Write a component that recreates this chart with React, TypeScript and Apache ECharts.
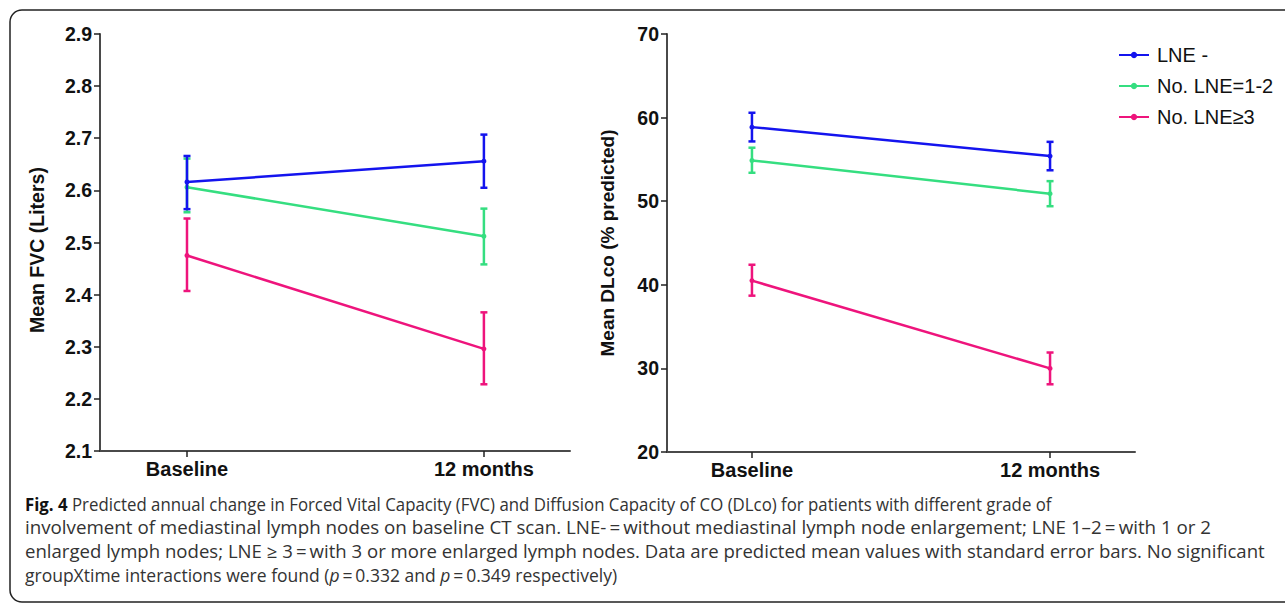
import React, { useEffect, useRef } from "react";
import * as echarts from "echarts";

const timepoints = ["Baseline", "12 months"];
const groups = ["LNE -", "No. LNE=1-2", "No. LNE≥3"];
const groupColors = ["#1414ee", "#35de80", "#ee147c"];

// Mean FVC (Liters) per group: [Baseline, 12 months]
const fvcMeans = [
  [2.616, 2.656],
  [2.606, 2.512],
  [2.475, 2.296],
];
const fvcLower = [
  [2.564, 2.605],
  [2.558, 2.458],
  [2.407, 2.228],
];
const fvcUpper = [
  [2.666, 2.707],
  [2.661, 2.565],
  [2.546, 2.366],
];

// Mean DLco (% predicted)
const dlcoMeans = [
  [58.86, 55.4],
  [54.87, 50.9],
  [40.5, 30.0],
];
const dlcoLower = [
  [57.15, 53.7],
  [53.4, 49.4],
  [38.7, 28.1],
];
const dlcoUpper = [
  [60.58, 57.1],
  [56.4, 52.4],
  [42.4, 31.9],
];

const fvcTicks = { min: 2.1, max: 2.9, interval: 0.1 };
const dlcoTicks = { min: 20, max: 70, interval: 10 };

const captionLines = [
  [
    { t: "Fig. 4", s: "b" },
    { t: " Predicted annual change in Forced Vital Capacity (FVC) and Diffusion Capacity of CO (DLco) for patients with different grade of", s: "n" },
  ],
  [
    { t: "involvement of mediastinal lymph nodes on baseline CT scan. LNE-\u2009=\u2009without mediastinal lymph node enlargement; LNE 1–2\u2009=\u2009with 1 or 2", s: "n" },
  ],
  [
    { t: "enlarged lymph nodes; LNE ≥ 3\u2009=\u2009with 3 or more enlarged lymph nodes. Data are predicted mean values with standard error bars. No significant", s: "n" },
  ],
  [
    { t: "groupXtime interactions were found (", s: "n" },
    { t: "p", s: "i" },
    { t: "\u2009=\u20090.332 and ", s: "n" },
    { t: "p", s: "i" },
    { t: "\u2009=\u20090.349 respectively)", s: "n" },
  ],
];
const captionScale = [0.961, 1.072, 1.062, 1];

const FONT = "'Liberation Sans', Arial, sans-serif";
const CAP_FONT = "'Open Sans', 'Noto Sans', sans-serif";

function errorRenderer(color: string) {
  return (params: any, api: any) => {
    const x = api.value(0);
    const lo = api.value(1);
    const hi = api.value(2);
    const pHi = api.coord([x, hi]);
    const pLo = api.coord([x, lo]);
    const hw = 3.5;
    const style = { stroke: color, lineWidth: 2.5, fill: "none" };
    return {
      type: "group",
      children: [
        { type: "line", shape: { x1: pHi[0], y1: pHi[1], x2: pLo[0], y2: pLo[1] }, style },
        { type: "line", shape: { x1: pHi[0] - hw, y1: pHi[1], x2: pHi[0] + hw, y2: pHi[1] }, style },
        { type: "line", shape: { x1: pLo[0] - hw, y1: pLo[1], x2: pLo[0] + hw, y2: pLo[1] }, style },
      ],
    };
  };
}

export default function App() {
  const ref = useRef<HTMLDivElement>(null);
  useEffect(() => {
    if (!ref.current) return;
    const chart = echarts.init(ref.current, null, { renderer: "svg" });

    const xAxisBase = (gridIndex: number, min: number, max: number) => ({
      type: "value",
      gridIndex,
      min,
      max,
      axisLine: { show: true, onZero: false, lineStyle: { color: "#4a4a4a", width: 2 } },
      axisTick: { show: true, customValues: [0, 1], length: 6, lineStyle: { color: "#222", width: 1.5 } },
      axisLabel: {
        customValues: [0, 1],
        formatter: (v: number) => timepoints[Math.round(v)] ?? "",
        fontFamily: FONT,
        fontWeight: "bold",
        fontSize: 20,
        color: "#111",
        margin: 8,
      },
      splitLine: { show: false },
    });
    const yAxisBase = (gridIndex: number, t: any, dec: number) => ({
      type: "value",
      gridIndex,
      min: t.min,
      max: t.max,
      interval: t.interval,
      axisLine: { show: true, onZero: false, lineStyle: { color: "#4a4a4a", width: 2 } },
      axisTick: { show: true, length: 6, lineStyle: { color: "#222", width: 1.5 } },
      axisLabel: {
        formatter: (v: number) => v.toFixed(dec),
        fontFamily: FONT,
        fontWeight: "bold",
        fontSize: 19.5,
        color: "#111",
        margin: 8,
      },
      splitLine: { show: false },
    });

    const series: any[] = [];
    const zOrder = [4, 3, 2];
    const build = (means: number[][], axis: number) => {
      groups.forEach((g, gi) => {
        series.push({
          type: "line",
          name: g,
          xAxisIndex: axis,
          yAxisIndex: axis,
          z: zOrder[gi],
          data: timepoints.map((_, ti) => [ti, means[gi][ti]]),
          symbol: "circle",
          symbolSize: 5,
          showSymbol: true,
          lineStyle: { color: groupColors[gi], width: 2.5 },
          itemStyle: { color: groupColors[gi] },
        });
      });
    };
    const buildErr = (lower: number[][], upper: number[][], axis: number) => {
      groups.forEach((g, gi) => {
        series.push({
          type: "custom",
          name: g,
          xAxisIndex: axis,
          yAxisIndex: axis,
          z: zOrder[gi],
          encode: { x: 0, y: [1, 2] },
          data: timepoints.map((_, ti) => [ti, lower[gi][ti], upper[gi][ti]]),
          renderItem: errorRenderer(groupColors[gi]),
        });
      });
    };
    build(fvcMeans, 0);
    build(dlcoMeans, 1);
    buildErr(fvcLower, fvcUpper, 0);
    buildErr(dlcoLower, dlcoUpper, 1);

    const captionGraphics = captionLines.map((line, li) => {
      const rich: any = {
        b: { fontFamily: CAP_FONT, fontWeight: "bold", fontSize: 17.5, fill: "#111" },
        n: { fontFamily: CAP_FONT, fontSize: 17.5, fill: "#333" },
        i: { fontFamily: CAP_FONT, fontStyle: "italic", fontSize: 17.5, fill: "#333" },
      };
      const text = line.map((p) => `{${p.s}|${p.t}}`).join("");
      return {
        type: "text",
        x: 25,
        y: 504 + li * 23.7,
        scaleX: captionScale[li],
        style: { text, rich, align: "left", verticalAlign: "middle", fontFamily: CAP_FONT, fontSize: 17.5 },
      };
    });

    chart.setOption({
      animation: false,
      backgroundColor: "#ffffff",
      grid: [
        { left: 100, top: 34, width: 470, height: 417 },
        { left: 667, top: 34, width: 468, height: 418 },
      ],
      xAxis: [xAxisBase(0, -0.293, 1.29), xAxisBase(1, -0.285, 1.285)],
      yAxis: [yAxisBase(0, fvcTicks, 1), yAxisBase(1, dlcoTicks, 0)],
      legend: {
        data: groups,
        orient: "vertical",
        left: 1113,
        top: 40,
        itemWidth: 30,
        itemHeight: 8,
        itemGap: 11,
        textStyle: { fontFamily: FONT, fontSize: 20, color: "#111", padding: [0, 0, 0, 3] },
      },
      series,
      graphic: [
        {
          type: "rect",
          shape: { x: 10, y: 10, width: 1400, height: 592, r: 12 },
          style: { fill: "none", stroke: "#222", lineWidth: 1.5 },
          silent: true,
        },
        {
          type: "text",
          x: 37,
          y: 250,
          rotation: Math.PI / 2,
          style: { text: "Mean FVC (Liters)", align: "center", verticalAlign: "middle", fontFamily: FONT, fontWeight: "bold", fontSize: 19.5, fill: "#111" },
        },
        {
          type: "text",
          x: 607,
          y: 243,
          rotation: Math.PI / 2,
          style: { text: "Mean DLco (% predicted)", align: "center", verticalAlign: "middle", fontFamily: FONT, fontWeight: "bold", fontSize: 19, fill: "#111" },
        },
        ...captionGraphics,
      ],
    });
    return () => chart.dispose();
  }, []);
  return <div ref={ref} style={{ position: "fixed", left: 0, top: 0, width: 1285, height: 603, background: "#fff" }} />;
}
